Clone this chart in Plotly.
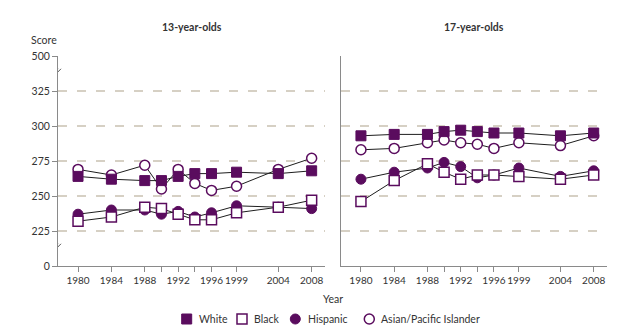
import plotly.graph_objects as go

# Assessment years (x axis)
years = [1980, 1984, 1988, 1990, 1992, 1994, 1996, 1999, 2004, 2008]
year_labels = ["1980", "1984", "1988", "", "1992", "", "1996", "1999", "2004", "2008"]

series_names = ["White", "Black", "Hispanic", "Asian/Pacific Islander"]

# Average scores, 13-year-olds
white_13 = [264, 262, 261, 261, 264, 266, 266, 267, 266, 268]
black_13 = [232, 235, 242, 241, 237, 233, 233, 238, 242, 247]
hispanic_13 = [237, 240, 240, 237, 239, 235, 238, 243, 242, 241]
asian_13 = [269, 265, 272, 255, 269, 259, 254, 257, 269, 277]

# Average scores, 17-year-olds
white_17 = [293, 294, 294, 296, 297, 296, 295, 295, 293, 295]
black_17 = [246, 261, 273, 267, 262, 265, 265, 264, 262, 265]
hispanic_17 = [262, 267, 270, 274, 271, 263, 265, 270, 264, 268]
asian_17 = [283, 284, 288, 290, 288, 287, 284, 288, 286, 293]

# Broken score axis: 0 is drawn at 200 and 500 at 350
score_tick_pos = [200, 225, 250, 275, 300, 325, 350]
score_tick_text = ["0", "225", "250", "275", "300", "325", "500"]

PURPLE = "#5a0c5e"
LINE = "#1e1e1e"
AXIS = "#8a8a8a"
GRID = "#d6d0c4"
TEXT = "#333333"
FONT = "Lato"
FS = 10.5
TICK_FS = 10

styles = {
    "White": dict(symbol="square", color=PURPLE, line=dict(color=PURPLE, width=1)),
    "Black": dict(symbol="square", color="white", line=dict(color=PURPLE, width=1.5)),
    "Hispanic": dict(symbol="circle", color=PURPLE, line=dict(color=PURPLE, width=1)),
    "Asian/Pacific Islander": dict(symbol="circle", color="white", line=dict(color=PURPLE, width=1.5)),
}

panels = [
    ("x", "y", {"White": white_13, "Black": black_13, "Hispanic": hispanic_13,
                "Asian/Pacific Islander": asian_13}),
    ("x2", "y2", {"White": white_17, "Black": black_17, "Hispanic": hispanic_17,
                  "Asian/Pacific Islander": asian_17}),
]

fig = go.Figure()
# circles first so the squares sit on top where they overlap
draw_order = ["Asian/Pacific Islander", "Hispanic", "White", "Black"]
for xa, ya, data in panels:
    for name in draw_order:
        fig.add_trace(go.Scatter(
            x=years, y=data[name], name=name, xaxis=xa, yaxis=ya,
            mode="lines+markers", showlegend=False,
            line=dict(color=LINE, width=1),
            marker=dict(size=10, **styles[name]),
        ))

# plot area: left 58px, right 607px, top 56px, bottom 266px
L, R, T, B = 58, 607, 56, 266
W, H = 644, 334
pw, ph = R - L, B - T
dom1 = [0, (325 - L) / pw]
dom2 = [(341 - L) / pw, 1]

xcommon = dict(range=[1977.6, 2009.6], tickvals=years, ticktext=year_labels,
               tickangle=0, showline=True, linecolor=AXIS, linewidth=1, ticks="outside",
               ticklen=5, tickcolor=AXIS, showgrid=False, zeroline=False,
               tickfont=dict(family=FONT, size=TICK_FS, color=TEXT), fixedrange=True)
ycommon = dict(range=[200, 350], tickvals=score_tick_pos, ticktext=score_tick_text,
               showline=True, linecolor=AXIS, linewidth=1, showgrid=True,
               gridcolor=GRID, gridwidth=1.5, griddash="9px,10px", zeroline=False,
               tickfont=dict(family=FONT, size=FS, color=TEXT), fixedrange=True)

fig.update_layout(
    width=W, height=H,
    margin=dict(l=L, r=W - R, t=T, b=H - B),
    paper_bgcolor="white", plot_bgcolor="white",
    font=dict(family=FONT, size=FS, color=TEXT),
    xaxis=dict(domain=dom1, anchor="y", **xcommon),
    xaxis2=dict(domain=dom2, anchor="y2", **xcommon),
    yaxis=dict(domain=[0, 1], anchor="x", ticks="outside", ticklen=5,
               tickcolor=AXIS, showticklabels=True, **ycommon),
    yaxis2=dict(domain=[0, 1], anchor="x2", ticks="", showticklabels=False, **ycommon),
)

def py(px_y):
    return (B - px_y) / ph

def px(px_x):
    return (px_x - L) / pw

ann = [
    dict(text="<b>13-year-olds</b>", xref="x domain", x=0.5, yref="paper", y=py(27)),
    dict(text="<b>17-year-olds</b>", xref="x2 domain", x=0.5, yref="paper", y=py(27)),
    dict(text="Score", xref="paper", x=px(29), xanchor="left", yref="paper", y=py(40)),
    dict(text="Year", xref="paper", x=px(332.5), yref="paper", y=py(299)),
]
for a in ann:
    a.setdefault("xanchor", "center")
    fig.add_annotation(showarrow=False, yanchor="middle",
                       font=dict(family=FONT, size=FS, color=TEXT), **a)

# axis break marks on the left score axis
for yb in (338, 213):
    for off in (-3, 0):
        fig.add_shape(type="line", xref="x", xsizemode="pixel", xanchor=1977.6,
                      x0=-5 + off, x1=3 + off, yref="y", ysizemode="pixel",
                      yanchor=yb, y0=-4, y1=4, line=dict(color="#555555", width=1))

# legend row
legend_sym_x = [186.7, 242, 295.3, 369.3]
legend_txt_x = [196.7, 251.7, 306, 379.3]
for name, sx, tx in zip(series_names, legend_sym_x, legend_txt_x):
    st = styles[name]
    shape_type = "rect" if st["symbol"] == "square" else "circle"
    half = 5
    fig.add_shape(type=shape_type, xref="paper", xsizemode="pixel", xanchor=px(sx),
                  x0=-half, x1=half, yref="paper", ysizemode="pixel", yanchor=py(319),
                  y0=-half, y1=half, fillcolor=st["color"],
                  line=dict(color=PURPLE, width=st["line"]["width"]))
    fig.add_annotation(text=name, showarrow=False, xref="paper", x=px(tx),
                       xanchor="left", yref="paper", y=py(319), yanchor="middle",
                       font=dict(family=FONT, size=FS, color=TEXT))

fig.write_html("out.html")
